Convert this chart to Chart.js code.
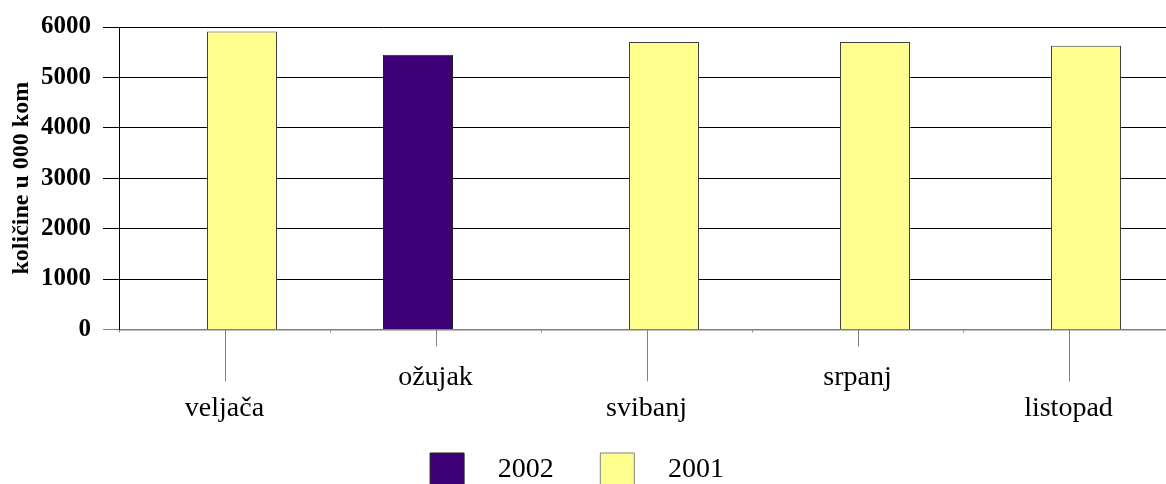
<!DOCTYPE html>
<html>
<head>
<meta charset="utf-8">
<script src="https://cdn.jsdelivr.net/npm/chart.js@4/dist/chart.umd.min.js"></script>
<style>
  html, body { margin: 0; padding: 0; background: #fff; overflow: hidden; }
  #frame { position: relative; width: 1166px; height: 484px; overflow: hidden; }
  #wrap { position: absolute; left: -20px; top: 0; width: 1194px; height: 497px; }
</style>
</head>
<body>
<div id="frame"><div id="wrap"><canvas id="chart"></canvas></div></div>
<script>
const months = ["veljača", "ožujak", "svibanj", "srpanj", "listopad"];
const values2002 = [null, 5450, null, null, null];
const values2001 = [5910, null, 5700, 5700, 5630];
const yTicks = [0, 1000, 2000, 3000, 4000, 5000, 6000];

const serif = "'Liberation Serif', 'Times New Roman', serif";

// leader lines from the axis down to the staggered month labels
const leaderLines = {
  id: "leaderLines",
  afterDraw(chart) {
    const xs = chart.scales.x;
    const ctx = chart.ctx;
    const base = chart.chartArea.bottom;
    ctx.save();
    ctx.strokeStyle = "#808080";
    ctx.lineWidth = 1;
    xs.ticks.forEach((t, i) => {
      const x = Math.round(xs.getPixelForTick(i)) + 0.5;
      ctx.beginPath();
      ctx.moveTo(x, base);
      ctx.lineTo(x, base + (i % 2 === 0 ? 52 : 17));
      ctx.stroke();
    });
    ctx.restore();
  },
};

new Chart(document.getElementById("chart"), {
  type: "bar",
  data: {
    labels: months,
    datasets: [
      {
        label: "2002",
        data: values2002,
        backgroundColor: "#3d0075",
        borderColor: "#202020",
        borderWidth: 1,
      },
      {
        label: "2001",
        data: values2001,
        backgroundColor: "#ffff90",
        borderColor: "#404040",
        borderWidth: 1,
      },
    ],
  },
  options: {
    responsive: true,
    maintainAspectRatio: false,
    animation: false,
    // Excel-style overlapping bars: 70px wide, centres 35px apart
    categoryPercentage: 0.3318,
    barPercentage: 2,
    layout: { padding: { top: 21, left: 0, right: 0, bottom: 0 } },
    plugins: {
      tooltip: { enabled: false },
      legend: {
        position: "bottom",
        labels: {
          color: "#000",
          font: { family: serif, size: 28 },
          boxWidth: 34,
          boxHeight: 34,
          padding: 27,
          generateLabels(chart) {
            const items = Chart.defaults.plugins.legend.labels.generateLabels(chart);
            items.forEach((it, i) => {
              it.text = "\u2002\u2009" + it.text + (i === 0 ? "\u2002\u2009" : "");
              it.strokeStyle = i === 0 ? "#202020" : "#808080";
              it.lineWidth = 1;
            });
            return items;
          },
        },
      },
    },
    scales: {
      x: {
        offset: true,
        afterFit(scale) {
          scale.height = 96.6;
        },
        grid: {
          offset: true,
          drawOnChartArea: false,
          tickLength: 3,
          color: "#808080",
        },
        border: { color: "#808080", width: 1.5 },
        ticks: {
          color: "#000",
          font: { family: serif, size: 28, lineHeight: 1.1 },
          padding: 30,
          maxRotation: 0,
          autoSkip: false,
          callback(value, index) {
            const name = this.getLabelForValue(value);
            return index % 2 === 0 ? ["", name] : [name];
          },
        },
      },
      y: {
        min: 0,
        max: 6000,
        afterBuildTicks(scale) {
          scale.ticks = yTicks.map((v) => ({ value: v }));
        },
        afterFit(scale) {
          scale.width = 139;
        },
        grid: {
          color: (c) => (c.tick && c.tick.value === 0 ? "#808080" : "#000"),
          tickLength: 16,
          lineWidth: 1,
        },
        border: { color: "#000", width: 1 },
        ticks: {
          color: "#000",
          font: { family: serif, size: 25, weight: "bold" },
          padding: 12,
          callback: (v) => String(v),
        },
        title: {
          display: true,
          text: "količine u 000 kom",
          color: "#000",
          font: { family: serif, size: 24, weight: "bold" },
          padding: { top: 27, bottom: 0 },
        },
      },
    },
  },
  plugins: [leaderLines],
});
</script>
</body>
</html>
